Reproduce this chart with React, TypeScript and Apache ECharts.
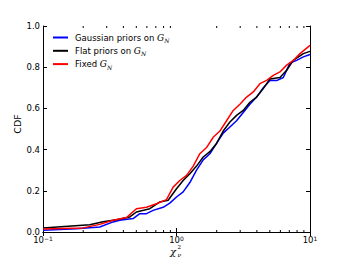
import React, { useEffect, useRef } from "react";
import * as echarts from "echarts";

const gaussX = [0.1, 0.178, 0.266, 0.335, 0.376, 0.473, 0.531, 0.596, 0.668, 0.794, 0.891, 1.0, 1.122, 1.259, 1.413, 1.585, 1.778, 1.995, 2.239, 2.512, 2.818, 3.162, 3.548, 3.981, 4.467, 5.012, 5.623, 6.31, 7.079, 7.943, 8.913, 10];
const gaussY = [0.008, 0.016, 0.024, 0.049, 0.057, 0.065, 0.089, 0.089, 0.105, 0.12, 0.14, 0.17, 0.195, 0.24, 0.3, 0.35, 0.38, 0.43, 0.48, 0.51, 0.54, 0.58, 0.62, 0.655, 0.7, 0.735, 0.735, 0.75, 0.82, 0.833, 0.85, 0.862];

const flatX = [0.1, 0.224, 0.282, 0.355, 0.447, 0.501, 0.631, 0.75, 0.866, 1.0, 1.122, 1.259, 1.413, 1.585, 1.778, 1.995, 2.239, 2.512, 2.818, 3.162, 3.548, 3.981, 4.467, 5.012, 5.957, 6.683, 7.499, 8.913, 10];
const flatY = [0.02, 0.035, 0.05, 0.06, 0.073, 0.097, 0.113, 0.146, 0.154, 0.21, 0.25, 0.283, 0.32, 0.364, 0.39, 0.43, 0.49, 0.534, 0.566, 0.59, 0.63, 0.655, 0.696, 0.743, 0.75, 0.785, 0.833, 0.866, 0.877];

const fixedX = [0.1, 0.2, 0.266, 0.335, 0.422, 0.501, 0.596, 0.708, 0.841, 0.944, 1.059, 1.189, 1.334, 1.496, 1.679, 1.884, 2.113, 2.371, 2.661, 2.985, 3.35, 3.758, 4.217, 4.732, 5.309, 5.957, 6.683, 7.499, 8.414, 10];
const fixedY = [0.015, 0.02, 0.037, 0.057, 0.07, 0.113, 0.12, 0.137, 0.157, 0.218, 0.25, 0.275, 0.32, 0.38, 0.41, 0.46, 0.49, 0.54, 0.59, 0.62, 0.655, 0.68, 0.72, 0.736, 0.76, 0.777, 0.81, 0.833, 0.866, 0.906];

const seriesNames = ["Gaussian priors on G_N", "Flat priors on G_N", "Fixed G_N"];
const seriesColors = ["#0000ff", "#000000", "#ff0000"];
const minorTickValues = [0.2, 0.3, 0.4, 0.5, 0.6, 0.7, 0.8, 0.9, 2, 3, 4, 5, 6, 7, 8, 9];

const FONT = "DejaVu Sans";

export default function App() {
  const ref = useRef<HTMLDivElement>(null);
  useEffect(() => {
    if (!ref.current) return;
    const chart = echarts.init(ref.current, null, { renderer: "svg" });
    const zip = (xs: number[], ys: number[]) => xs.map((x, i) => [x, ys[i]]);
    const lineSeries = [zip(gaussX, gaussY), zip(flatX, flatY), zip(fixedX, fixedY)].map((d, i) => ({
      name: seriesNames[i],
      type: "line",
      data: d,
      symbol: "none",
      smooth: false,
      lineStyle: { color: seriesColors[i], width: 1.5 },
      itemStyle: { color: seriesColors[i] },
      z: 3 + i,
    }));
    const axisLineStyle = { show: true, lineStyle: { color: "#000", width: 1 } };
    chart.setOption({
      animation: false,
      grid: { left: 43, right: 34, top: 26, bottom: 26, containLabel: false },
      legend: {
        data: seriesNames,
        orient: "vertical",
        left: 53,
        top: 31.5,
        padding: 0,
        itemWidth: 15,
        itemHeight: 2,
        itemGap: 1.3,
        icon: "rect",
        formatter: (name: string) => name.replace("G_N", "{g|G}{n|N}"),
        textStyle: {
          fontFamily: FONT,
          fontSize: 8.5,
          color: "#000",
          padding: [0, 0, 0, 2],
          rich: {
            g: { fontFamily: "DejaVu Serif", fontStyle: "italic", fontSize: 9, lineHeight: 12 },
            n: { fontFamily: "DejaVu Serif", fontStyle: "italic", fontSize: 6, lineHeight: 12, verticalAlign: "bottom" },
          },
          lineHeight: 12,
        },
      },
      xAxis: [
        {
          type: "log",
          logBase: 10,
          min: 0.1,
          max: 10,
          position: "bottom",
          axisLine: axisLineStyle,
          axisTick: { show: true, inside: true, length: 4, lineStyle: { color: "#000" } },
          splitLine: { show: false },
          axisLabel: {
            margin: 3,
            formatter: (v: number) => {
              const e = Math.round(Math.log10(v));
              return `{b|10}{s|${e < 0 ? "\u2212" + -e : e}}`;
            },
            rich: {
              b: { fontFamily: FONT, fontSize: 8.5, color: "#000", lineHeight: 9 },
              s: { fontFamily: FONT, fontSize: 6, color: "#000", verticalAlign: "top", lineHeight: 6 },
            },
          },
        },
        {
          type: "log",
          logBase: 10,
          min: 0.1,
          max: 10,
          position: "top",
          axisLine: axisLineStyle,
          axisTick: { show: true, inside: true, length: 4, lineStyle: { color: "#000" } },
          splitLine: { show: false },
          axisLabel: { show: false },
        },
      ],
      yAxis: [
        {
          type: "value",
          min: 0,
          max: 1,
          interval: 0.2,
          position: "left",
          axisLine: axisLineStyle,
          axisTick: { show: true, inside: true, length: 4, lineStyle: { color: "#000" } },
          splitLine: { show: false },
          axisLabel: {
            margin: 3,
            fontFamily: FONT,
            fontSize: 8.5,
            color: "#000",
            formatter: (v: number) => v.toFixed(1),
          },
        },
        {
          type: "value",
          min: 0,
          max: 1,
          interval: 0.2,
          position: "right",
          axisLine: axisLineStyle,
          axisTick: { show: true, inside: true, length: 4, lineStyle: { color: "#000" } },
          splitLine: { show: false },
          axisLabel: { show: false },
        },
      ],
      series: [
        ...lineSeries,
        {
          type: "custom",
          name: "minorTicks",
          silent: true,
          z: 10,
          data: minorTickValues.map((v) => [v, 0]),
          renderItem: (params: any, api: any) => {
            const x = api.coord([api.value(0), 0])[0];
            const yb = api.coord([api.value(0), 0])[1];
            const yt = api.coord([api.value(0), 1])[1];
            return {
              type: "group",
              children: [
                { type: "line", shape: { x1: x, y1: yb, x2: x, y2: yb - 2 }, style: { stroke: "#000", lineWidth: 1 } },
                { type: "line", shape: { x1: x, y1: yt, x2: x, y2: yt + 2 }, style: { stroke: "#000", lineWidth: 1 } },
              ],
            };
          },
        },
      ],
      graphic: [
        {
          type: "text",
          x: 17,
          y: 124,
          rotation: Math.PI / 2,
          style: { text: "CDF", fontFamily: FONT, fontSize: 9.5, fill: "#000", align: "center", verticalAlign: "middle" },
        },
        {
          type: "text",
          x: 173,
          y: 251.5,
          style: { text: "χ", fontFamily: "DejaVu Serif", fontStyle: "italic", fontSize: 10, fill: "#000", align: "center", verticalAlign: "middle" },
        },
        {
          type: "text",
          x: 177.5,
          y: 247,
          style: { text: "2", fontFamily: "DejaVu Serif", fontSize: 5.5, fill: "#000", align: "left", verticalAlign: "middle" },
        },
        {
          type: "text",
          x: 177.5,
          y: 254.5,
          style: { text: "ν", fontFamily: "DejaVu Serif", fontStyle: "italic", fontSize: 6, fill: "#000", align: "left", verticalAlign: "middle" },
        },
      ],
    });
    return () => chart.dispose();
  }, []);
  return <div ref={ref} style={{ position: "fixed", left: 0, top: 0, width: 344, height: 258, background: "#fff" }} />;
}
